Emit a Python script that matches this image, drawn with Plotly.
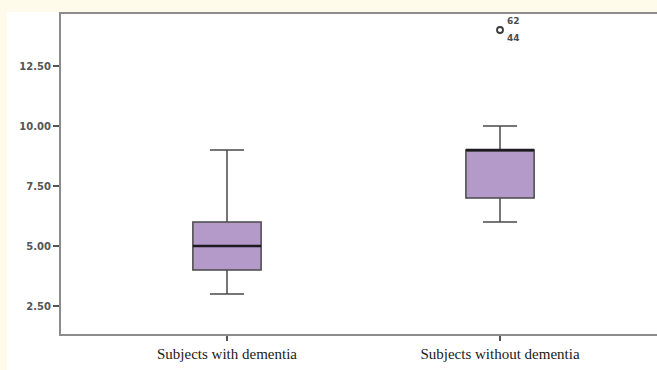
import plotly.graph_objects as go

# Group labels and five-number summaries
categories = ["Subjects with dementia", "Subjects without dementia"]
q1_vals = [4.0, 7.0]
median_vals = [5.0, 9.0]
q3_vals = [6.0, 9.0]
lower_whisker = [3.0, 6.0]
upper_whisker = [9.0, 10.0]

# Outlying case (group index, value, case labels)
outlier_group = [1]
outlier_value = [14.0]
outlier_cases = [["62", "44"]]

y_ticks = [2.5, 5.0, 7.5, 10.0, 12.5]
y_tick_text = [f"{v:.2f}" for v in y_ticks]

BOX_WIDTH = 0.25
positions = list(range(len(categories)))

fig = go.Figure()

fig.add_trace(go.Box(
    x=positions,
    q1=q1_vals,
    median=median_vals,
    q3=q3_vals,
    lowerfence=lower_whisker,
    upperfence=upper_whisker,
    width=BOX_WIDTH,
    whiskerwidth=0.5,
    fillcolor="#b39ac9",
    line=dict(color="#4a4a4a", width=1.5),
    boxpoints=False,
    hoverinfo="skip",
    showlegend=False,
))

# Heavier median bars
for p, m in zip(positions, median_vals):
    fig.add_trace(go.Scatter(
        x=[p - BOX_WIDTH / 2, p + BOX_WIDTH / 2],
        y=[m, m],
        mode="lines",
        line=dict(color="#1e1a22", width=2.6),
        hoverinfo="skip",
        showlegend=False,
    ))

# Outlier markers with case numbers
fig.add_trace(go.Scatter(
    x=[positions[g] for g in outlier_group],
    y=outlier_value,
    mode="markers",
    marker=dict(symbol="circle-open", size=6, color="#3a3a3a", line=dict(width=1.8, color="#3a3a3a")),
    hoverinfo="skip",
    showlegend=False,
))
for g, v, cases in zip(outlier_group, outlier_value, outlier_cases):
    for k, lab in enumerate(cases):
        fig.add_annotation(
            x=positions[g], y=v, text=lab, showarrow=False,
            xanchor="left", xshift=5, yshift=9 if k == 0 else -8,
            font=dict(family="DejaVu Sans", size=9, color="#4d4d4d", weight="bold"),
        )

# White panel on the cream page
fig.add_shape(
    type="rect", xref="paper", yref="paper",
    x0=-0.0906, x1=1.0, y0=-0.2, y1=1.00625,
    fillcolor="white", line=dict(width=0), layer="below",
)

fig.update_layout(
    width=657, height=370,
    margin=dict(l=61, r=0, t=14, b=36),
    paper_bgcolor="#fffbeb",
    plot_bgcolor="rgba(0,0,0,0)",
    showlegend=False,
    xaxis=dict(
        range=[-0.608, 1.575],
        tickvals=positions,
        ticktext=categories,
        tickfont=dict(family="Liberation Serif", size=15, color="#1a1a1a"),
        showline=True, linecolor="#8c8c8c", linewidth=2, mirror=True,
        ticks="outside", ticklen=5, tickcolor="#555", tickwidth=1.5,
        showgrid=False, zeroline=False,
    ),
    yaxis=dict(
        range=[1.3333, 14.6667],
        tickvals=y_ticks,
        ticktext=y_tick_text,
        tickfont=dict(family="DejaVu Sans", size=10, color="#555", weight="bold"),
        showline=True, linecolor="#8c8c8c", linewidth=2,
        ticks="outside", ticklen=6, tickcolor="#555", tickwidth=1.5,
        showgrid=False, zeroline=False,
    ),
)

fig.write_html("out.html")
